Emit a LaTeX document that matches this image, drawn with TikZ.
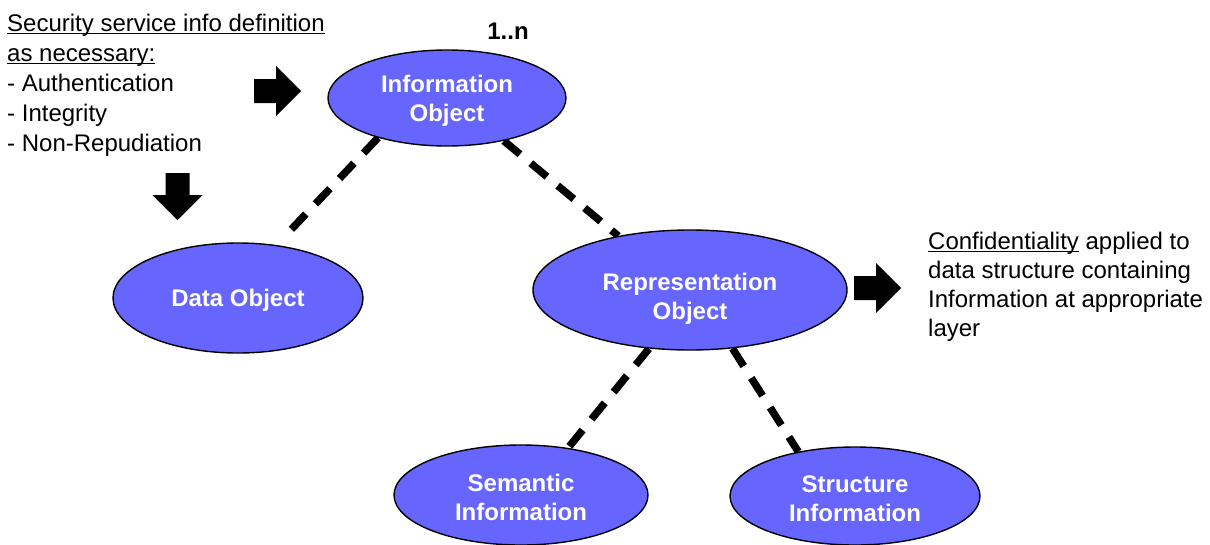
\documentclass[tikz,border=0pt]{standalone}
\usepackage{fontspec}
\setmainfont{Liberation Sans}
\usetikzlibrary{shapes.geometric,backgrounds}
\newcommand{\myul}[1]{\setbox0\hbox{#1}\rlap{\rule[-2.6pt]{\wd0}{1.1pt}}\box0\relax}
\newcommand{\lowered}[2]{\raisebox{-#1}{#2}}
\definecolor{ovalblue}{RGB}{102,102,255}
\begin{document}
\begin{tikzpicture}[x=1pt,y=-1pt,
  oval/.style={ellipse, draw=black, line width=1.4pt, fill=ovalblue, inner sep=0pt,
    text=white, text depth=0pt, align=center,
    font=\fontsize{24}{29}\selectfont\bfseries},
  link/.style={line width=7.5pt, dash pattern=on 21pt off 14pt},
  plain/.style={inner sep=0pt, align=left},
  blockarrow/.pic={\fill[black] (0,-12) -- (22,-12) -- (22,-25) -- (47,0) -- (22,25) -- (22,12) -- (0,12) -- cycle;}
]
\useasboundingbox (0,0) rectangle (1210,544);

\node[oval, minimum width=238pt, minimum height=96pt] (info) at (447,98) {Information\\Object};
\node[oval, minimum width=250pt, minimum height=110pt] (data) at (238,298) {Data Object};
\node[oval, minimum width=314pt, minimum height=120pt] (rep) at (690,290)
  {\lowered{12pt}{Representation}\\\lowered{12pt}{Object}};
\node[oval, minimum width=254pt, minimum height=100pt] (sem) at (521,495)
  {\lowered{5pt}{Semantic}\\\lowered{5pt}{Information}};
\node[oval, minimum width=250pt, minimum height=98pt] (str) at (855,496)
  {\lowered{5pt}{Structure}\\\lowered{5pt}{Information}};

\begin{pgfonlayer}{background}
\draw[link, shorten >=18pt] (info.-150.5) -- (data.54);
\draw[link] (info.-37.5) -- (rep.143);
\draw[link] (rep.-125) -- (sem.45.6);
\draw[link] (rep.-54.4) -- (str.142.8);
\end{pgfonlayer}

\node[font=\fontsize{24}{29}\selectfont\bfseries, inner sep=0pt] (mult) at (508,31) {1..n};

\node[plain, anchor=north west, font=\fontsize{24}{30}\selectfont] (sec) at (7,13.5)
  {\myul{Security service info definition}\\\myul{as necessary:}\\- Authentication\\- Integrity\\- Non-Repudiation};

\node[plain, anchor=north west, font=\fontsize{24}{29.3}\selectfont] (conf) at (928,231.5)
  {\myul{Confidentiality} applied to\\data structure containing\\Information at appropriate\\layer};

\pic (arrowright) at (254,91) {blockarrow};
\pic[rotate=-90] (arrowdown) at (177.5,173) {blockarrow};
\pic (arrowconf) at (854,288) {blockarrow};
\end{tikzpicture}
\end{document}
